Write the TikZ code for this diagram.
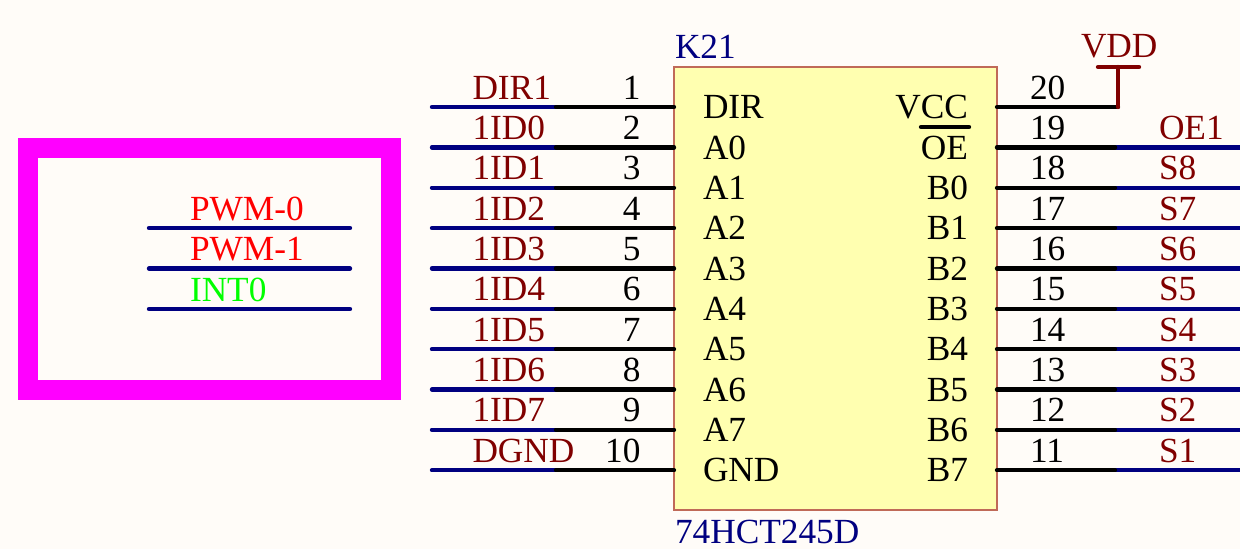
\documentclass[tikz,border=0pt]{standalone}
\usepackage{fontspec}
\setmainfont{Liberation Serif}
\definecolor{bgc}{HTML}{FFFCF8}
\definecolor{netred}{HTML}{800000}
\definecolor{wireblue}{HTML}{000080}
\definecolor{chipfill}{HTML}{FFFFB0}
\definecolor{chipline}{HTML}{C06A58}
\definecolor{magbox}{HTML}{FF00FF}
\tikzset{
  txt/.style={inner sep=0pt,outer sep=0pt,font=\fontsize{35.3}{42}\selectfont},
  netlabel/.style={txt,anchor=base west,text=netred},
  rnum/.style={txt,anchor=base east,text=black},
  lnum/.style={txt,anchor=base west,text=black},
  lname/.style={txt,anchor=base west,text=black},
  rname/.style={txt,anchor=base east,text=black},
  deslabel/.style={txt,anchor=base west,text=wireblue},
  pinwire/.style={black,line width=4.4pt,line cap=round},
  netwire/.style={wireblue,line width=4.4pt,line cap=round},
  chipbox/.style={draw=chipline,fill=chipfill,line width=1.5pt,inner sep=0pt,outer sep=0pt,minimum width=323pt,minimum height=443pt,anchor=north west},
  framebox/.style={draw=magbox,line width=20pt,inner sep=0pt,outer sep=0pt,minimum width=363.5pt,minimum height=242pt,anchor=north west},
  pwr/.style={netred,line width=4.4pt,line cap=round}
}
\begin{document}
\begin{tikzpicture}[x=1pt,y=-1pt]
\useasboundingbox (0,0) rectangle (1240,549);
\fill[bgc] (0,0) rectangle (1240,549);
% magenta frame
\node[framebox] (frame) at (27.5,147.5) {};
\foreach \n/\y in {a/228,b/268.5,c/309}{
  \coordinate (s\n l) at (149,\y);
  \coordinate (s\n r) at (350,\y);
  \draw[netwire] (s\n l) -- (s\n r);
}
\node[netlabel,text=red] (pwm0) at (190,220) {PWM-0};
\node[netlabel,text=red] (pwm1) at (190,260.5) {PWM-1};
\node[netlabel,text={rgb,255:red,0;green,255;blue,0}] (int0) at (190,301) {INT0};
% chip
\node[chipbox] (chip) at (674,67) {};
\node[deslabel] (ref) at (675,58.4) {K21};
\node[deslabel] (part) at (675,543.4) {74HCT245D};
% left pins
\foreach \i/\net/\pin/\num [count=\k from 0] in {
  1/DIR1/DIR/1,2/1ID0/A0/2,3/1ID1/A1/3,4/1ID2/A2/4,5/1ID3/A3/5,
  6/1ID4/A4/6,7/1ID5/A5/7,8/1ID6/A6/8,9/1ID7/A7/9,10/DGND/GND/10}{
  \pgfmathsetmacro{\yy}{107+40.36*\k}
  \coordinate (l\i a) at (432,\yy);
  \coordinate (l\i b) at (556,\yy);
  \coordinate (l\i c) at (chip.west |- l\i a);
  \draw[netwire] (l\i a) -- (l\i b);
  \draw[pinwire] (l\i b) -- (l\i c);
  \node[netlabel] (ln\i) at (472.5,\yy-8) {\net};
  \node[rnum] (lp\i) at (640.5,\yy-8) {\num};
  \node[lname] (lq\i) at (703,\yy+11.7) {\pin};
}
% right pins
\foreach \i/\net/\pin/\num [count=\k from 1] in {
  19/OE1/OE/19,18/S8/B0/18,17/S7/B1/17,16/S6/B2/16,15/S5/B3/15,
  14/S4/B4/14,13/S3/B5/13,12/S2/B6/12,11/S1/B7/11}{
  \pgfmathsetmacro{\yy}{107+40.36*\k}
  \coordinate (r\i a) at (1240,\yy);
  \coordinate (r\i b) at (1115,\yy);
  \coordinate (r\i c) at (chip.east |- r\i a);
  \draw[netwire,line cap=butt] (r\i a) -- (r\i b);
  \draw[pinwire] (r\i b) -- (r\i c);
  \node[netlabel] (rn\i) at (1159,\yy-8) {\net};
  \node[lnum] (rp\i) at (1030,\yy-8) {\num};
  \node[rname] (rq\i) at (968,\yy+11.7) {\pin};
}
% VCC pin and power port
\coordinate (r20b) at (1118,107);
\coordinate (r20c) at (chip.east |- r20b);
\coordinate (vddtop) at (1118,67);
\coordinate (vddl) at (1098,67);
\coordinate (vddr) at (1139,67);
\draw[pinwire] (r20c) -- (r20b);
\draw[pwr] (r20b) -- (vddtop);
\draw[pwr] (vddl) -- (vddr);
\node[lnum] (rp20) at (1030,99) {20};
\node[rname] (rq20) at (968,118.7) {VCC};
\node[netlabel] (vdd) at (1081,57.4) {VDD};
% OE overbar
\coordinate (oel) at (921,127);
\coordinate (oer) at (969,127);
\draw[pinwire] (oel) -- (oer);
\end{tikzpicture}
\end{document}
